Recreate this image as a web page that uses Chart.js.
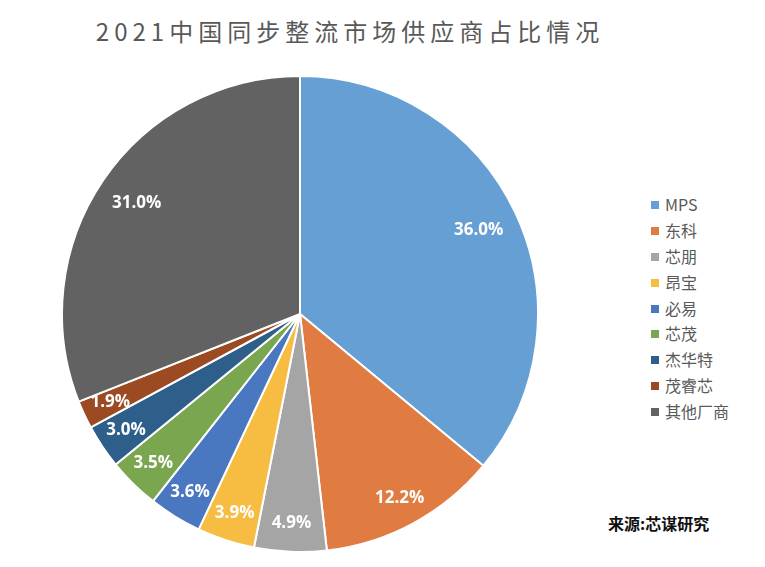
<!DOCTYPE html>
<html>
<head>
<meta charset="utf-8">
<script src="https://cdn.jsdelivr.net/npm/chart.js@4/dist/chart.umd.min.js"></script>
<style>
  body { margin: 0; background: #fff; }
  #wrap { position: relative; width: 765px; height: 567px; overflow: hidden; font-family: "Noto Sans CJK SC", sans-serif; }
  #title { position: absolute; left: 0; width: 700px; top: 13px; text-align: center; font-size: 24px; color: #595959; letter-spacing: 5px; }
  #pie { position: absolute; left: 61px; top: 75px; width: 478px; height: 478px; }
  #legend { position: absolute; left: 651px; top: 192px; font-size: 16px; color: #595959; }
  #legend div { height: 25.9px; line-height: 25.9px; white-space: nowrap; }
  #legend span { display: inline-block; width: 8px; height: 8px; margin-right: 6px; vertical-align: 2px; }
  #source { position: absolute; left: 608px; top: 511px; font-size: 16px; font-weight: bold; color: #111; }
</style>
</head>
<body>
<div id="wrap">
  <div id="title">2021中国同步整流市场供应商占比情况</div>
  <canvas id="pie" width="478" height="478"></canvas>
  <div id="legend"></div>
  <div id="source">来源:芯谋研究</div>
</div>
<script>
const vendors = ['MPS', '东科', '芯朋', '昂宝', '必易', '芯茂', '杰华特', '茂睿芯', '其他厂商'];
const shares = [36.0, 12.2, 4.9, 3.9, 3.6, 3.5, 3.0, 1.9, 31.0];
const colors = ['#669fd4', '#e07c42', '#a5a5a5', '#f6bd42', '#4a78c0', '#7aa650', '#2e5f8a', '#9b4a22', '#626262'];

const legendBox = document.getElementById('legend');
vendors.forEach((name, i) => {
  const row = document.createElement('div');
  row.innerHTML = `<span style="background:${colors[i]}"></span>${name}`;
  legendBox.appendChild(row);
});

// white percentage labels near the outer edge of each slice
const sliceLabels = {
  id: 'sliceLabels',
  afterDatasetsDraw(chart) {
    const ctx = chart.ctx;
    const meta = chart.getDatasetMeta(0);
    ctx.save();
    ctx.fillStyle = '#fff';
    ctx.font = 'bold 17px "Open Sans", sans-serif';
    ctx.textAlign = 'center';
    ctx.textBaseline = 'middle';
    meta.data.forEach((arc, i) => {
      const mid = (arc.startAngle + arc.endAngle) / 2;
      const r = arc.outerRadius * (i === 0 || i === 8 ? 0.83 : 0.88);
      const x = arc.x + Math.cos(mid) * r;
      const y = arc.y + Math.sin(mid) * r;
      ctx.fillText(shares[i].toFixed(1) + '%', x, y);
    });
    ctx.restore();
  }
};

new Chart(document.getElementById('pie'), {
  type: 'pie',
  data: {
    labels: vendors,
    datasets: [{
      data: shares,
      backgroundColor: colors,
      borderColor: '#fff',
      borderWidth: 2,
      hoverOffset: 0
    }]
  },
  options: {
    responsive: false,
    animation: false,
    layout: { padding: 0 },
    plugins: {
      legend: { display: false },
      tooltip: { enabled: false }
    }
  },
  plugins: [sliceLabels]
});
</script>
</body>
</html>
